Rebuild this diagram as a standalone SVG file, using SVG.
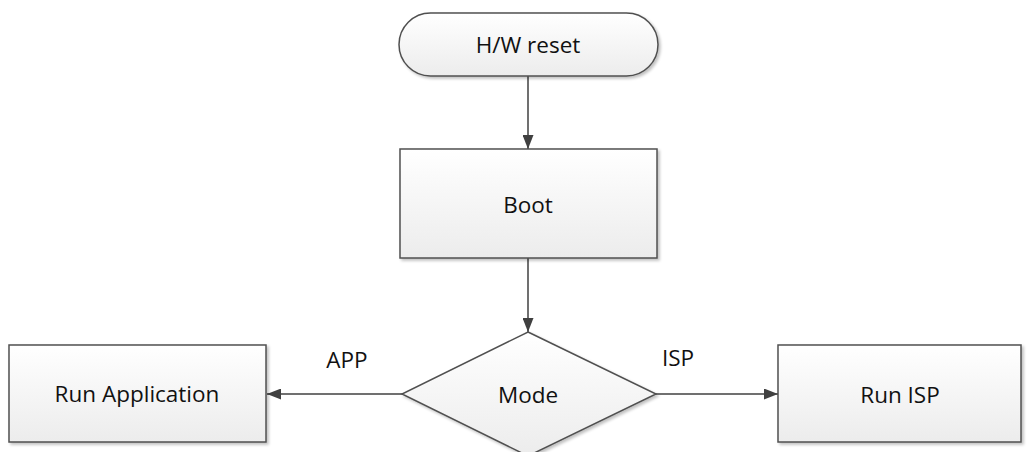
<svg xmlns="http://www.w3.org/2000/svg" width="1030" height="452" viewBox="0 0 1030 452">
<defs>
<linearGradient id="g" x1="0" y1="0" x2="0" y2="1">
<stop offset="0" stop-color="#ffffff"/>
<stop offset="1" stop-color="#ececec"/>
</linearGradient>
<filter id="sh" x="-10%" y="-10%" width="130%" height="130%">
<feGaussianBlur in="SourceAlpha" stdDeviation="1.5"/>
<feOffset dx="2" dy="2" result="b"/>
<feComponentTransfer><feFuncA type="linear" slope="0.25"/></feComponentTransfer>
<feMerge><feMergeNode/><feMergeNode in="SourceGraphic"/></feMerge>
</filter>
<marker id="arr" viewBox="0 0 14 11" refX="14" refY="5.5" markerWidth="14" markerHeight="11" markerUnits="userSpaceOnUse" orient="auto">
<path d="M0,0 L14,5.5 L0,11 z" fill="#404040"/>
</marker>
</defs>
<style>
.n{fill:url(#g);stroke:#505050;stroke-width:1.5;filter:url(#sh)}
.t{font-family:"Open Sans","Liberation Sans",sans-serif;font-size:22.5px;fill:#111;text-anchor:middle}
.c{stroke:#404040;stroke-width:1.5;fill:none;marker-end:url(#arr)}
</style>
<rect width="1030" height="452" fill="#fff"/>
<g id="connectors">
<line class="c" x1="528" y1="76" x2="528" y2="149"/>
<line class="c" x1="528" y1="258" x2="528" y2="332"/>
<line class="c" x1="402" y1="394" x2="267" y2="394"/>
<line class="c" x1="656" y1="394" x2="778" y2="394"/>
<text class="t" x="347" y="368">APP</text>
<text class="t" x="678" y="366">ISP</text>
</g>
<g id="hwreset">
<rect class="n" x="399" y="13" width="259" height="63" rx="31.5" ry="31.5"/>
<text class="t" x="528" y="53">H/W reset</text>
</g>
<g id="boot">
<rect class="n" x="400" y="149" width="257" height="109"/>
<text class="t" x="528" y="213">Boot</text>
</g>
<g id="mode">
<polygon class="n" points="528,332 656,394 528,456 402,394"/>
<text class="t" x="528" y="403">Mode</text>
</g>
<g id="runapp">
<rect class="n" x="9" y="345" width="257" height="97"/>
<text class="t" x="137" y="402">Run Application</text>
</g>
<g id="runisp">
<rect class="n" x="778" y="345" width="243" height="97"/>
<text class="t" x="900" y="403">Run ISP</text>
</g>
</svg>
